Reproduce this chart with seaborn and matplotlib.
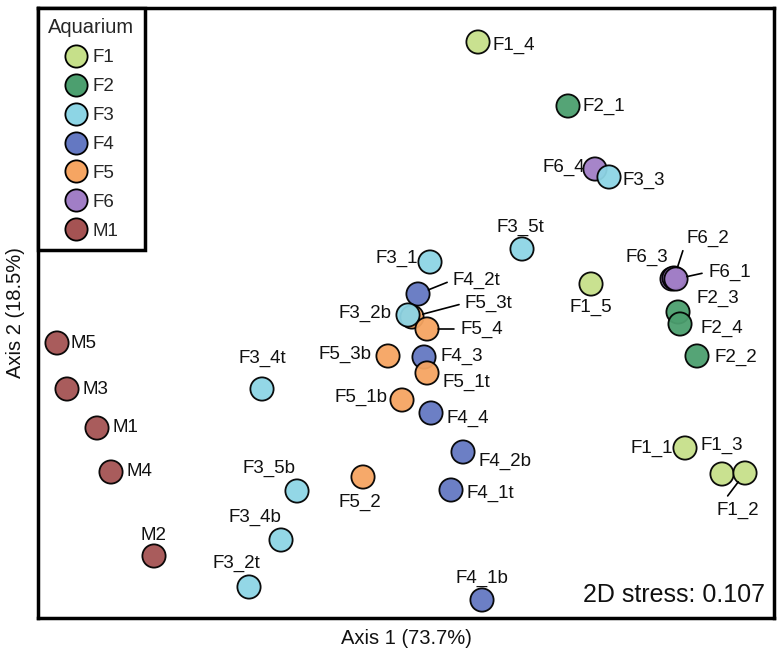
import matplotlib
matplotlib.use("Agg")
import matplotlib.pyplot as plt
import seaborn as sns
import pandas as pd

# ---- data (NMDS scores) ----
samples = ["F1_4", "F2_1", "F6_4", "F3_3", "F3_5t", "F3_1", "F1_5", "F6_3", "F6_2", "F6_1",
           "F2_3", "F2_4", "F2_2", "F4_2t", "F5_3t", "F3_2b", "F5_4", "F5_3b", "F4_3", "F5_1t",
           "F5_1b", "F4_4", "F4_2b", "F4_1t", "F5_2", "F3_4t", "F3_5b", "F3_4b", "F3_2t", "F4_1b",
           "F1_1", "F1_3", "F1_2", "M5", "M3", "M1", "M4", "M2"]
axis1 = [0.312, 0.672, 0.780, 0.836, 0.488, 0.120, 0.764, 1.088, 1.096, 1.104,
         1.112, 1.120, 1.188, 0.072, 0.048, 0.032, 0.108, -0.048, 0.096, 0.108,
         0.008, 0.124, 0.252, 0.204, -0.148, -0.552, -0.412, -0.476, -0.604, 0.328,
         1.140, 1.288, 1.380, -1.372, -1.332, -1.212, -1.156, -0.984]
axis2 = [1.152, 0.896, 0.644, 0.612, 0.324, 0.272, 0.184, 0.204, 0.208, 0.204,
         0.072, 0.024, -0.104, 0.144, 0.052, 0.060, 0.004, -0.104, -0.108, -0.172,
         -0.280, -0.332, -0.488, -0.640, -0.588, -0.236, -0.644, -0.840, -1.028, -1.080,
         -0.472, -0.576, -0.572, -0.052, -0.236, -0.392, -0.568, -0.904]
aquarium = [s[:2] if s[0] == "F" else "M1" for s in samples]
groups = ["F1", "F2", "F3", "F4", "F5", "F6", "M1"]
group_colors = ["#c6e08a", "#4c9f6f", "#8dd5e5", "#6478c2", "#f6a562", "#a17ec6", "#a55353"]
stress_text = "2D stress: 0.107"
xlabel = "Axis 1 (73.7%)"
ylabel = "Axis 2 (18.5%)"
legend_title = "Aquarium"

df = pd.DataFrame({"sample": samples, "Axis1": axis1, "Axis2": axis2, "Aquarium": aquarium})

# ---- label layout (pixel offsets from point: dx, dy-down, ha, leader) ----
lab = {
    "F1_4": (14, 3, "left", False), "F2_1": (15, 0, "left", False),
    "F6_4": (-10, -2, "right", False), "F3_3": (13, 3, "left", False),
    "F3_5t": (-2, -22, "center", False), "F3_1": (-12, -4, "right", False),
    "F1_5": (0, 23, "center", False), "F6_3": (-4, -22, "right", False),
    "F6_2": (13, -40, "left", True), "F6_1": (32, -7, "left", True),
    "F2_3": (19, -14, "left", False), "F2_4": (20, 4, "left", False),
    "F2_2": (18, 1, "left", False), "F4_2t": (35, -14, "left", True),
    "F5_3t": (53, -14, "left", True), "F3_2b": (-16, -2, "right", False),
    "F5_4": (33, 0, "left", True), "F5_3b": (-16, -2, "right", False),
    "F4_3": (16, -1, "left", False), "F5_1t": (15, 9, "left", False),
    "F5_1b": (-14, -3, "right", False), "F4_4": (16, 5, "left", False),
    "F4_2b": (15, 9, "left", False), "F4_1t": (16, 3, "left", False),
    "F5_2": (-3, 25, "center", False), "F3_4t": (0, -31, "center", False),
    "F3_5b": (-2, -23, "right", False), "F3_4b": (0, -23, "right", False),
    "F3_2t": (11, -24, "right", False), "F4_1b": (0, -22, "center", False),
    "F1_1": (-12, 0, "right", False), "F1_3": (-22, -29, "left", False),
    "F1_2": (-28, 37, "left", True), "M5": (14, 0, "left", False),
    "M3": (15, 0, "left", False), "M1": (15, 0, "left", False),
    "M4": (15, 0, "left", False), "M2": (0, -21, "center", False),
}

sns.set_theme(style="white")
plt.rcParams["font.family"] = ["Liberation Sans", "DejaVu Sans"]

W, H = 777, 658
fig = plt.figure(figsize=(W / 100, H / 100), dpi=100)
ax = fig.add_axes([38 / W, 1 - 618 / H, (774 - 38) / W, (618 - 8) / H])

sns.scatterplot(data=df, x="Axis1", y="Axis2", hue="Aquarium", hue_order=groups,
                palette=dict(zip(groups, group_colors)), s=280, edgecolor="black",
                linewidth=1.3, alpha=0.95, ax=ax, legend=False, zorder=3)

for s, x, y in zip(samples, axis1, axis2):
    dx, dy, ha, leader = lab[s]
    kw = {}
    if leader:
        relx = {"left": 0.0, "right": 1.0, "center": 0.5}[ha]
        kw["arrowprops"] = dict(arrowstyle="-", color="black", lw=1.2,
                                shrinkA=2, shrinkB=8, relpos=(relx, 0.5))
    ax.annotate(s, xy=(x, y), xytext=(dx, -dy), textcoords="offset pixels",
                ha=ha, va="center", fontsize=13.5, color="#111111", zorder=4, **kw)

ax.set_xlim((38 - 400) / 250, (774 - 400) / 250)
ax.set_ylim((330 - 618) / 250, (330 - 8) / 250)
ax.set_xticks([])
ax.set_yticks([])
for sp in ax.spines.values():
    sp.set_visible(True)
    sp.set_color("black")
    sp.set_linewidth(2.5)
ax.set_xlabel(xlabel, fontsize=14.5, labelpad=8, color="#111111")
ax.set_ylabel(ylabel, fontsize=14.5, labelpad=9, color="#111111")

ax.text(0.988, 0.018, stress_text, transform=ax.transAxes, ha="right", va="bottom",
        fontsize=18, color="#111111")

handles = [plt.Line2D([], [], marker="o", linestyle="", markersize=16,
                      markerfacecolor=c, markeredgecolor="black", markeredgewidth=1.3)
           for c in group_colors]
leg = ax.legend(handles, groups, title=legend_title, loc="upper left",
                frameon=True, fancybox=False, alignment="center",
                fontsize=13.5, title_fontsize=14.5,
                handletextpad=0.3, labelspacing=0.63, borderpad=0.55,
                handlelength=1.2, borderaxespad=0)
leg.get_frame().set_edgecolor("black")
leg.get_frame().set_linewidth(2.5)
leg.get_frame().set_alpha(1)
leg.set_zorder(10)

fig.savefig("out.png", dpi=100)
